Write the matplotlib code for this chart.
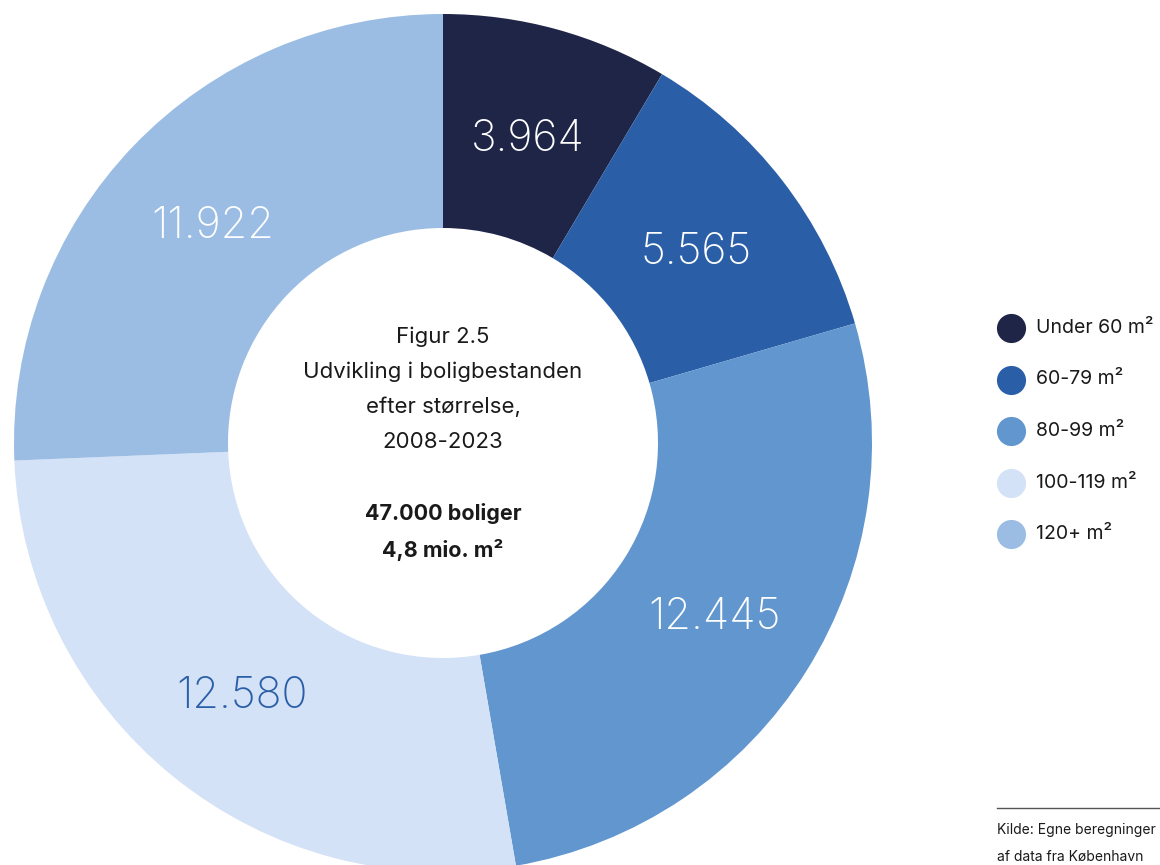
import numpy as np
import matplotlib.pyplot as plt
from matplotlib.lines import Line2D

# Housing stock growth by dwelling size, 2008-2023
categories = ["Under 60 m²", "60-79 m²", "80-99 m²", "100-119 m²", "120+ m²"]
values = [3964, 5565, 12445, 12580, 11922]
value_labels = ["3.964", "5.565", "12.445", "12.580", "11.922"]
colors = ["#1f2547", "#2a5fa8", "#6196cf", "#d3e2f6", "#9bbde4"]
label_colors = ["white", "white", "white", "#2a5fa8", "white"]

plt.rcParams['font.family'] = ['Inter', 'DejaVu Sans']

fig = plt.figure(figsize=(11.6, 8.65), dpi=100)
ax = fig.add_axes([0, 0, 1, 1])
ax.set_xlim(0, 1160)
ax.set_ylim(0, 865)
ax.set_aspect('equal')
ax.axis('off')

H = 865
cx, cy = 443, H - 443
outer_r = 429
inner_r = 215

wedges, texts = ax.pie(values, colors=colors, startangle=90, counterclock=False,
                       radius=outer_r, center=(cx, cy), labels=value_labels,
                       labeldistance=0.745,
                       wedgeprops=dict(width=outer_r - inner_r, linewidth=0),
                       textprops=dict(fontsize=31, fontweight='light',
                                      ha='center', va='center'))
for t, c in zip(texts, label_colors):
    t.set_color(c)
    x, y = t.get_position()
    t.set_position((x, y - 5))
ax.set_xlim(0, 1160)
ax.set_ylim(0, H)

# centre text
title_lines = ["Figur 2.5", "Udvikling i boligbestanden", "efter størrelse,", "2008-2023"]
for i, line in enumerate(title_lines):
    ax.text(cx, H - (337 + i * 35), line, ha='center', va='center',
            fontsize=16, color='#1a1a1a')
ax.text(cx, H - 513, "47.000 boliger", ha='center', va='center',
        fontsize=15.5, fontweight='bold', color='#1a1a1a')
ax.text(cx, H - 550, "4,8 mio. m²", ha='center', va='center',
        fontsize=15.5, fontweight='bold', color='#1a1a1a')

# legend with circle markers
for i, (cat, col) in enumerate(zip(categories, colors)):
    y = H - (328 + i * 51.5)
    ax.scatter([1011], [y], s=440, color=col, linewidths=0, clip_on=False)
    ax.text(1036, y, cat, ha='left', va='center', fontsize=14, color='#1a1a1a')

# source note
ax.add_line(Line2D([997, 1160], [H - 808, H - 808], color='#555555', linewidth=1))
ax.text(997, H - 830, "Kilde: Egne beregninger", ha='left', va='center',
        fontsize=10, color='#1a1a1a')
ax.text(997, H - 857, "af data fra København", ha='left', va='center',
        fontsize=10, color='#1a1a1a')

fig.savefig("out.png", dpi=100)
